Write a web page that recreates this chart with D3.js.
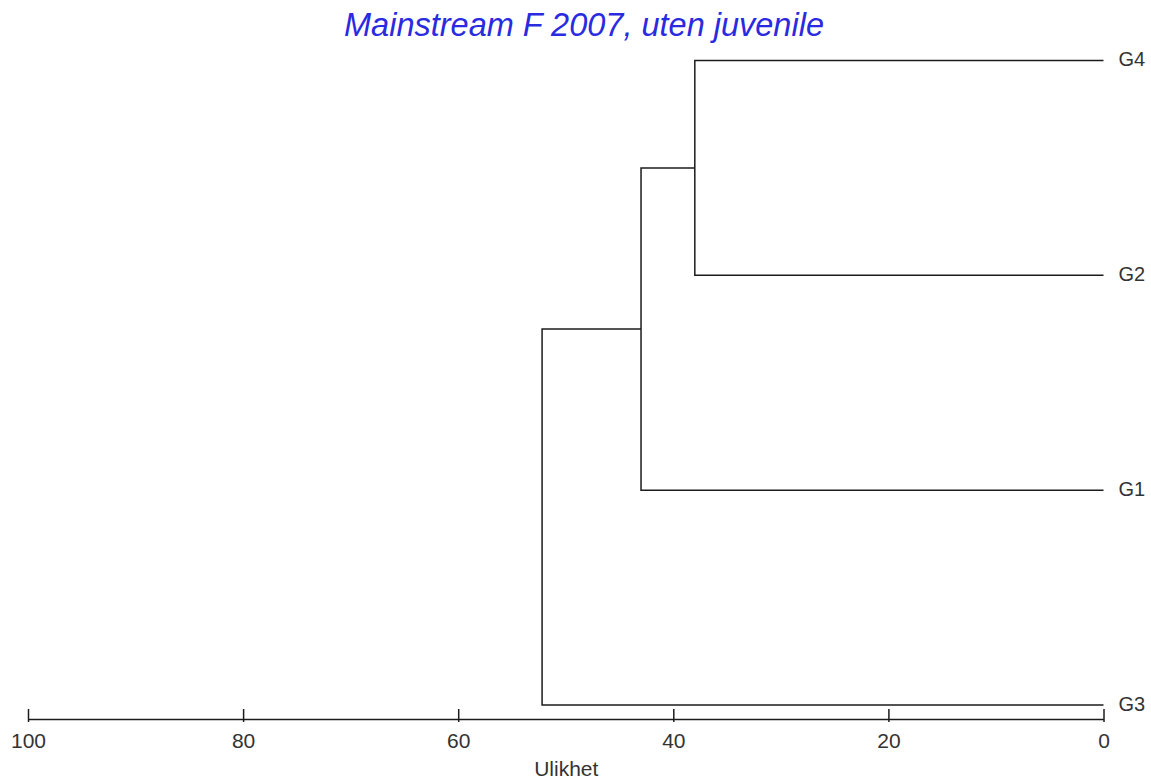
<!DOCTYPE html>
<html>
<head>
<meta charset="utf-8">
<script src="https://cdn.jsdelivr.net/npm/d3@7"></script>
<style>
  html, body { margin: 0; padding: 0; background: #fff; }
  svg { display: block; }
  text { font-family: "Liberation Sans", Arial, sans-serif; }
</style>
</head>
<body>
<svg id="chart" width="1151" height="783"></svg>
<script>
// Leaf order top to bottom
const leaves = ["G4", "G2", "G1", "G3"];
// Agglomeration steps: joined clusters and dissimilarity level
const merges = [
  { left: "G4", right: "G2", height: 38 },
  { left: "C1", right: "G1", height: 43 },
  { left: "C2", right: "G3", height: 52.2 }
];
const mergeIds = ["C1", "C2", "C3"];
const tickValues = [100, 80, 60, 40, 20, 0];
const titleText = "Mainstream F 2007, uten juvenile";
const axisTitle = "Ulikhet";

const svg = d3.select("#chart");
const axisY = 719;
const lineColor = "#1c1c1c";
const textColor = "#333";

const x = d3.scaleLinear().domain([100, 0]).range([28, 1103.5]);
const y = d3.scalePoint().domain(leaves).range([60.5, 705]);

// node positions: leaves sit at distance 0
const nodes = {};
leaves.forEach(l => { nodes[l] = { x: x(0), y: y(l) }; });
merges.forEach((m, i) => {
  const a = nodes[m.left], b = nodes[m.right];
  nodes[mergeIds[i]] = { x: x(m.height), y: (a.y + b.y) / 2, a, b };
});

// elbow links
const g = svg.append("g");
merges.forEach((m, i) => {
  const n = nodes[mergeIds[i]];
  const path = d3.path();
  path.moveTo(n.a.x, n.a.y);
  path.lineTo(n.x, n.a.y);
  path.lineTo(n.x, n.b.y);
  path.lineTo(n.b.x, n.b.y);
  g.append("path")
    .attr("d", path.toString())
    .attr("fill", "none")
    .attr("stroke", lineColor)
    .attr("stroke-width", 1.5);
});

// leaf labels
svg.append("g").selectAll("text")
  .data(leaves)
  .join("text")
  .attr("x", x(0) + 15)
  .attr("y", d => y(d) + 5.5)
  .attr("font-size", 20)
  .attr("fill", textColor)
  .text(d => d);

// bottom axis
const axis = d3.axisBottom(x)
  .tickValues(tickValues)
  .tickSizeOuter(0)
  .tickSizeInner(0)
  .tickFormat(d3.format("d"));

const ax = svg.append("g")
  .attr("transform", `translate(0,${axisY})`)
  .call(axis);
ax.select(".domain").attr("stroke", lineColor).attr("stroke-width", 1.5);
ax.selectAll(".tick line")
  .attr("y1", -10).attr("y2", 3)
  .attr("stroke", lineColor).attr("stroke-width", 1.5);
ax.selectAll(".tick text")
  .attr("y", 14)
  .attr("font-family", "Liberation Sans, Arial, sans-serif")
  .attr("font-size", 21)
  .attr("fill", textColor);

svg.append("text")
  .attr("x", (x(100) + x(0)) / 2 + 0.5)
  .attr("y", 776)
  .attr("text-anchor", "middle")
  .attr("font-size", 21)
  .attr("fill", textColor)
  .text(axisTitle);

svg.append("text")
  .attr("x", 584)
  .attr("y", 36)
  .attr("text-anchor", "middle")
  .attr("font-size", 32.5)
  .attr("font-style", "italic")
  .attr("fill", "#2a2ae0")
  .text(titleText);
</script>
</body>
</html>
